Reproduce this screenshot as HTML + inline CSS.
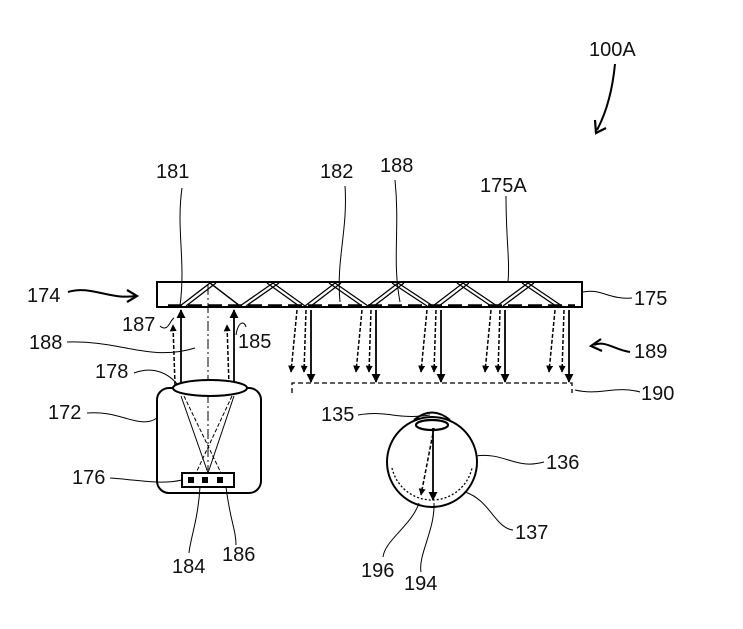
<!DOCTYPE html>
<html><head><style>
html,body{margin:0;padding:0;background:#fff;}
svg{display:block;}
text{font-family:"Liberation Sans",Arial,sans-serif;font-size:20px;fill:#111;}
</style></head><body>
<svg width="743" height="629" viewBox="0 0 743 629" xmlns="http://www.w3.org/2000/svg">
<defs>
<marker id="a" viewBox="0 0 10 10" refX="9" refY="5" markerWidth="9" markerHeight="9" orient="auto" markerUnits="userSpaceOnUse">
<path d="M0,0 L10,5 L0,10 Z" fill="#000"/>
</marker>
<marker id="as" viewBox="0 0 10 10" refX="9" refY="5" markerWidth="7" markerHeight="7" orient="auto" markerUnits="userSpaceOnUse">
<path d="M0,0 L10,5 L0,10 Z" fill="#000"/>
</marker>
</defs>
<g fill="none" stroke="#000">
<rect x="157" y="282" width="425" height="25" stroke-width="2"/>
<g stroke-width="1.3">
<path d="M180,306 L210,283 L240,306 L273,283 L305,306 L335,283 L368,306 L398,283 L433,306 L463,283 L497,306 L528,283 L562,306"/>
<path d="M186,306 L216,283 M246,306 L279,283 M311,306 L341,283 M374,306 L404,283 M439,306 L469,283 M503,306 L534,283"/>
<path d="M210,283 L240,306 M267,283 L299,306 M329,283 L362,306 M392,283 L427,306 M457,283 L491,306 M522,283 L556,306"/>
</g>
<line x1="168" y1="306" x2="575" y2="306" stroke-width="3.5" stroke-dasharray="14,6"/>
<line x1="208" y1="285" x2="208" y2="470" stroke-width="1" stroke-dasharray="10,3,2,3"/>
<line x1="181" y1="388" x2="181" y2="310" stroke-width="1.8" marker-end="url(#a)"/>
<line x1="234" y1="388" x2="234" y2="310" stroke-width="1.8" marker-end="url(#a)"/>
<line x1="175" y1="385" x2="173" y2="325" stroke-width="1.5" stroke-dasharray="4,2" marker-end="url(#as)"/>
<line x1="229" y1="385" x2="227" y2="325" stroke-width="1.5" stroke-dasharray="4,2" marker-end="url(#as)"/>
<g id="grp">
<line x1="297" y1="310" x2="291" y2="372" stroke-width="1.5" stroke-dasharray="4,2" marker-end="url(#as)"/>
<line x1="306" y1="310" x2="304" y2="372" stroke-width="1.5" stroke-dasharray="4,2" marker-end="url(#as)"/>
<line x1="311" y1="310" x2="311" y2="382" stroke-width="1.8" marker-end="url(#a)"/>
</g>
<use href="#grp" x="65"/>
<use href="#grp" x="130"/>
<use href="#grp" x="194"/>
<use href="#grp" x="258"/>
<path d="M292,393 L292,383 L572,383 L572,393" stroke-width="1.3" stroke-dasharray="5,3"/>
<rect x="157" y="388" width="104" height="105" rx="12" stroke-width="2"/>
<ellipse cx="210" cy="388" rx="37" ry="8" fill="#fff" stroke-width="2"/>
<rect x="182" y="473" width="52" height="14" stroke-width="2"/>
<g fill="#000" stroke="none"><rect x="188" y="477" width="6" height="6"/><rect x="202" y="477" width="6" height="6"/><rect x="217" y="477" width="6" height="6"/></g>
<path d="M181,396 L208,473 L234,396" stroke-width="1"/>
<path d="M184,396 L221,473 M232,396 L196,473" stroke-width="1" stroke-dasharray="4,2"/>
<circle cx="432" cy="462" r="45" stroke-width="2"/>
<path d="M414,420 Q432,405 450,420" stroke-width="2"/>
<ellipse cx="432" cy="425" rx="16" ry="5" stroke-width="2.2"/>
<path d="M392,468 A41,41 0 0 0 472,468" stroke-width="1.3" stroke-dasharray="2,2"/>
<line x1="434" y1="428" x2="421" y2="495" stroke-width="1.5" stroke-dasharray="4,2" marker-end="url(#as)"/>
<line x1="433" y1="428" x2="433" y2="500" stroke-width="1.8" marker-end="url(#a)"/>
<g stroke-width="1">
<path d="M182,188 C176,230 186,260 180,306"/>
<path d="M345,186 C348,230 336,260 340,302"/>
<path d="M395,180 C400,230 392,260 400,302"/>
<path d="M506,196 C506,240 510,260 508,282"/>
<path d="M583,292 C600,288 610,300 632,298"/>
<path d="M160,326 C168,333 170,320 174,318"/>
<path d="M236,335 C238,322 244,320 246,327"/>
<path d="M67,342 C120,340 150,362 195,348"/>
<path d="M134,373 C155,365 170,375 178,385"/>
<path d="M575,390 C600,396 615,385 640,392"/>
<path d="M87,413 C120,410 140,430 157,418"/>
<path d="M358,415 C390,410 395,420 430,415"/>
<path d="M476,456 C505,452 515,470 544,462"/>
<path d="M110,478 C140,480 160,485 182,480"/>
<path d="M465,492 C490,500 495,528 513,530"/>
<path d="M200,487 C198,520 190,540 189,553"/>
<path d="M226,487 C230,520 236,530 236,545"/>
<path d="M419,503 C412,525 385,540 383,557"/>
<path d="M434,503 C435,530 418,555 421,572"/>
<path d="M68,292 C90,285 110,300 135,296" stroke-width="2"/>
<path d="M630,352 C615,350 605,340 594,345" stroke-width="2"/>
<path d="M615,64 C612,95 605,115 597,130" stroke-width="2"/>
</g>
<path d="M127,290 L137,296 L127,302" stroke-width="2.2"/>
<path d="M601,339 L591,346 L602,351" stroke-width="2.2"/>
<path d="M595,120 L596,133 L606,128" stroke-width="2.2"/>
</g>
<text x="589" y="56">100A</text>
<text x="156" y="178">181</text>
<text x="320" y="178">182</text>
<text x="380" y="172">188</text>
<text x="480" y="192">175A</text>
<text x="27" y="302">174</text>
<text x="634" y="305">175</text>
<text x="122" y="331">187</text>
<text x="238" y="348">185</text>
<text x="29" y="349">188</text>
<text x="634" y="358">189</text>
<text x="95" y="378">178</text>
<text x="641" y="400">190</text>
<text x="48" y="419">172</text>
<text x="321" y="421">135</text>
<text x="546" y="469">136</text>
<text x="72" y="484">176</text>
<text x="515" y="539">137</text>
<text x="172" y="573">184</text>
<text x="222" y="561">186</text>
<text x="361" y="577">196</text>
<text x="404" y="590">194</text>
</svg>
</body></html>
